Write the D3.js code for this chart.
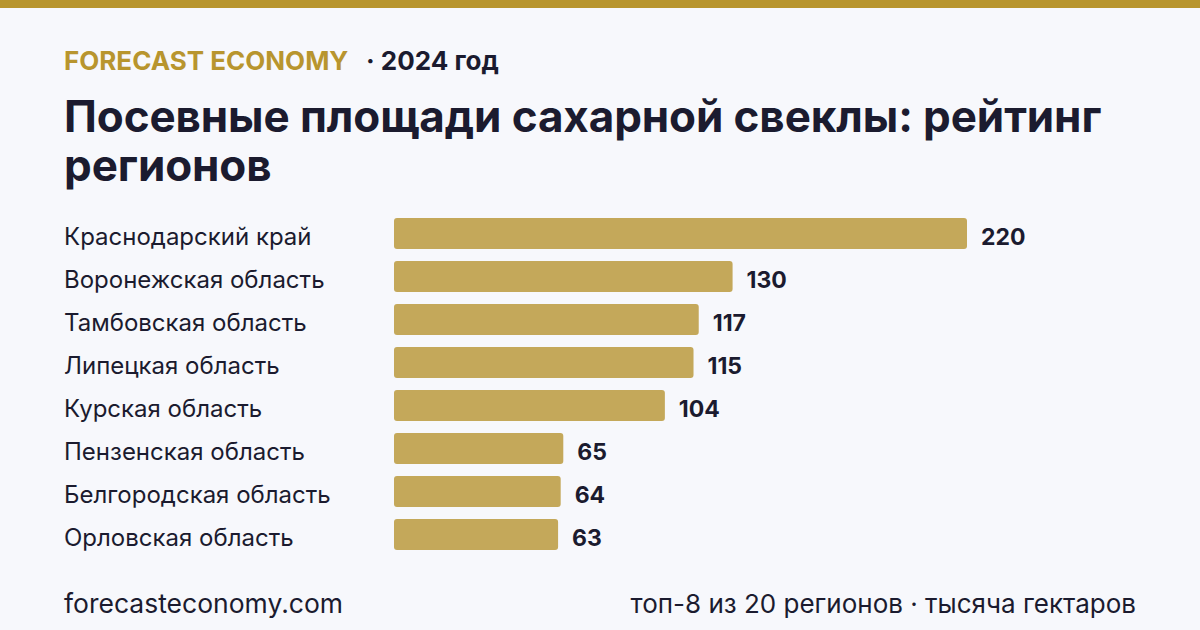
<!DOCTYPE html>
<html><head><meta charset="utf-8">
<script src="https://cdn.jsdelivr.net/npm/d3@7"></script>
<style>html,body{margin:0;padding:0;background:#f7f8fc;}svg{display:block;font-family:Inter,"Noto Sans",sans-serif;}</style>
</head><body>
<script>
const categories = ["Краснодарский край","Воронежская область","Тамбовская область","Липецкая область","Курская область","Пензенская область","Белгородская область","Орловская область"];
const values = [220,130,117,115,104,65,64,63];
const brand = "FORECAST ECONOMY";
const yearLabel = "· 2024 год";
const titleLines = ["Посевные площади сахарной свеклы: рейтинг","регионов"];
const footerLeft = "forecasteconomy.com";
const footerRight = "топ-8 из 20 регионов · тысяча гектаров";

const W=1200,H=630;
const svg=d3.select("body").append("svg").attr("width",W).attr("height",H);
svg.append("rect").attr("width",W).attr("height",H).attr("fill","#f7f8fc");
svg.append("rect").attr("width",W).attr("height",8).attr("fill","#b8952e");

svg.append("text").attr("x",64).attr("y",70).attr("font-size",26).attr("font-weight",700).attr("fill","#b8952e").text(brand);
svg.append("text").attr("x",366).attr("y",70).attr("font-size",26).attr("font-weight",700).attr("fill","#1b1b2f").text(yearLabel);
svg.append("text").attr("font-size",44).attr("font-weight",700).attr("fill","#1b1b2f").attr("letter-spacing",-0.1)
  .selectAll("tspan").data(titleLines).join("tspan").attr("x",64).attr("y",(d,i)=>132+i*49).text(d=>d);

const x=d3.scaleLinear().domain([0,220]).range([394,967]);
const y=d3.scaleBand().domain(categories).range([212,556]).paddingInner(0.28).paddingOuter(0.14);

const g=svg.append("g");
g.selectAll("rect.bar").data(values).join("rect").attr("class","bar")
  .attr("x",x(0)).attr("y",(d,i)=>y(categories[i])).attr("width",d=>x(d)-x(0)).attr("height",y.bandwidth())
  .attr("rx",3).attr("fill","#c4a85a");
g.selectAll("text.cat").data(categories).join("text").attr("class","cat")
  .attr("x",64).attr("y",d=>y(d)+y.bandwidth()/2+11)
  .attr("font-size",24).attr("fill","#1b1b2f").text(d=>d);
g.selectAll("text.val").data(values).join("text").attr("class","val")
  .attr("x",d=>x(d)+14).attr("y",(d,i)=>y(categories[i])+y.bandwidth()/2+11)
  .attr("font-size",23).attr("font-weight",700).attr("fill","#1b1b2f").text(d=>d);

svg.append("text").attr("x",64).attr("y",613).attr("font-size",26.5).attr("fill","#1b1b2f").text(footerLeft);
svg.append("text").attr("x",1136).attr("y",613).attr("text-anchor","end").attr("font-size",26).attr("fill","#1b1b2f").text(footerRight);
</script>
</body></html>
